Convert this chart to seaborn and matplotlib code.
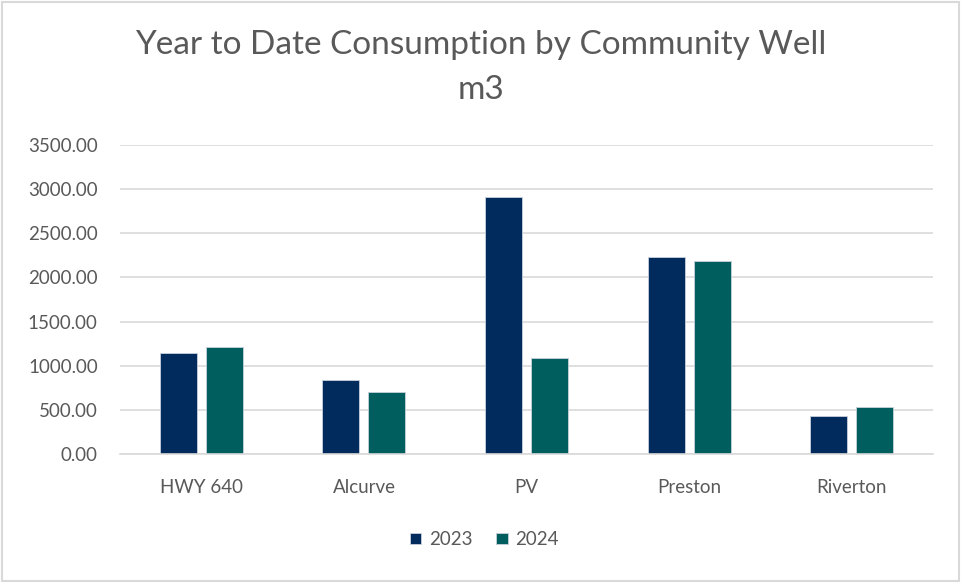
import seaborn as sns
import pandas as pd
import matplotlib.pyplot as plt
from matplotlib.patches import Rectangle

wells = ['HWY 640', 'Alcurve', 'PV', 'Preston', 'Riverton']
y2023 = [1140, 838, 2914, 2231, 430]
y2024 = [1215, 706, 1084, 2189, 529]
years = ['2023', '2024']

df = pd.DataFrame({
    'well': wells * 2,
    'year': [years[0]] * len(wells) + [years[1]] * len(wells),
    'value': y2023 + y2024,
})

sns.set_style('white')
plt.rcParams['font.family'] = ['Lato', 'DejaVu Sans']

fig = plt.figure(figsize=(9.61, 5.83), dpi=100)
ax = fig.add_axes([0.1249, 0.2213, 0.971 - 0.1249, 0.7513 - 0.2213])

sns.barplot(data=df, x='well', y='value', hue='year',
            palette=['#002B5C', '#005E5E'], saturation=1, width=0.566, gap=0.196,
            edgecolor='#c8d0dc', linewidth=0.6, ax=ax)

ax.set_ylim(0, 3500)
ax.set_xlim(-0.5, 4.5)
ax.set_yticks(range(0, 3501, 500))
ax.set_yticklabels([f'{v:.2f}' for v in range(0, 3501, 500)])
ax.yaxis.grid(True, color='#d9d9d9', linewidth=1.2)
ax.set_axisbelow(True)
for s in ['top', 'right', 'left']:
    ax.spines[s].set_visible(False)
ax.spines['bottom'].set_color('#d9d9d9')
ax.spines['bottom'].set_linewidth(1.2)
ax.tick_params(axis='both', length=0, labelsize=13.5, colors='#595959')
ax.tick_params(axis='y', pad=16)
ax.tick_params(axis='x', pad=18)
ax.set_xlabel('')
ax.set_ylabel('')

leg = ax.legend(loc='upper center', bbox_to_anchor=(0.448, -0.195), ncol=2,
                frameon=False, fontsize=13.5, handlelength=0.6, handleheight=0.6,
                columnspacing=1.3, handletextpad=0.4)
for t in leg.get_texts():
    t.set_color('#595959')

fig.text(0.5, 0.922, 'Year to Date Consumption by Community Well', ha='center',
         va='center', fontsize=24, color='#595959')
fig.text(0.5, 0.845, 'm3', ha='center', va='center', fontsize=24, color='#595959')

fig.patches.append(Rectangle((0.002, 0.003), 0.996, 0.994, transform=fig.transFigure,
                             fill=False, edgecolor='#d9d9d9', linewidth=1.5))

fig.savefig('out.png', dpi=100)
